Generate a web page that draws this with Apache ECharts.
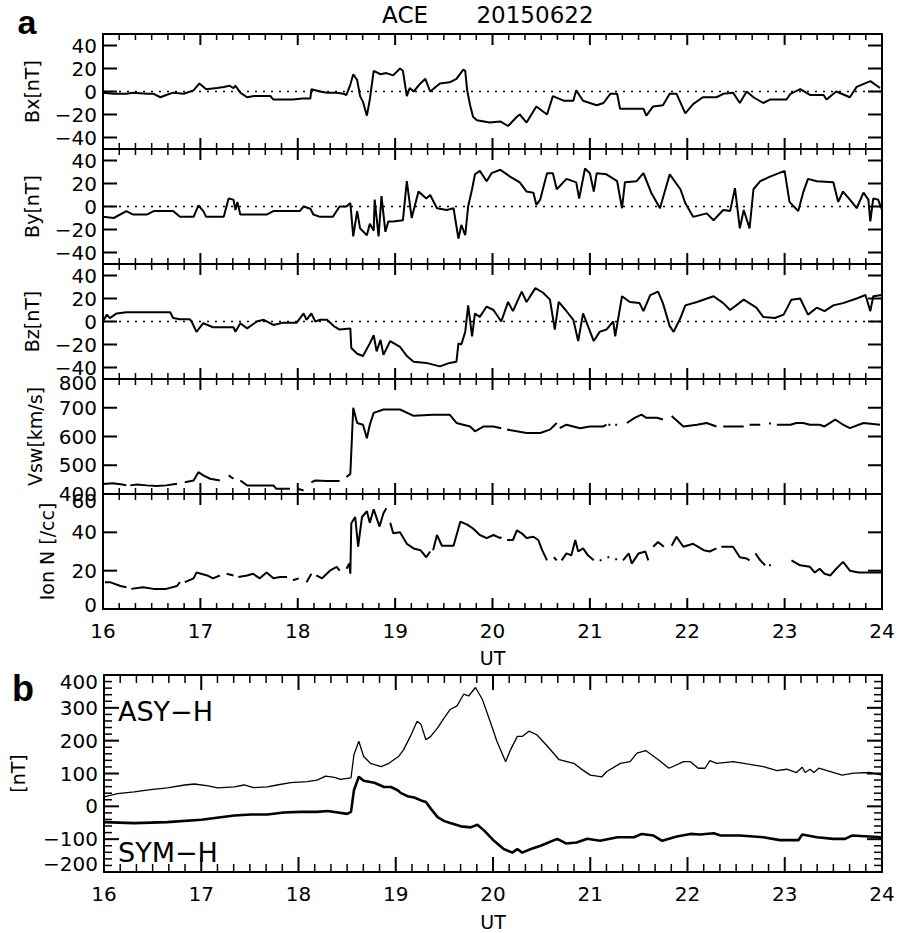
<!DOCTYPE html>
<html>
<head>
<meta charset="utf-8">
<script src="https://cdn.jsdelivr.net/npm/echarts@6/dist/echarts.min.js"></script>
<style>
  html, body { margin: 0; padding: 0; background: #fff; }
  #chart { width: 898px; height: 933px; }
</style>
</head>
<body>
<div id="chart"></div>
<script>
// hours UT, values ('-' = data gap)
const bx = [[16.00,-1],[16.11,-2],[16.24,-2],[16.31,-1],[16.45,-2],[16.52,-2],[16.59,-5],[16.65,-3],[16.72,-1],[16.83,-2],[16.93,1],[16.99,7],[17.06,2],[17.17,3],[17.24,4],[17.30,5],[17.34,3],[17.36,5],[17.41,-1],[17.48,-5],[17.55,-4],[17.65,-4],[17.72,-4],[17.75,-7],[17.85,-7],[17.95,-7],[18.05,-6],[18.13,-6],[18.14,2],[18.23,0],[18.30,-1],[18.40,-1],[18.47,-2],[18.50,-3],[18.54,6],[18.57,15],[18.61,10],[18.64,-4],[18.67,-9],[18.71,-21],[18.74,-7],[18.78,18],[18.85,15],[18.91,16],[18.98,14],[19.05,20],[19.08,18],[19.12,-4],[19.15,3],[19.19,0],[19.26,7],[19.31,11],[19.36,0],[19.46,7],[19.56,8],[19.63,11],[19.70,19],[19.72,18],[19.74,1],[19.77,-12],[19.80,-22],[19.84,-25],[19.97,-27],[20.08,-26],[20.16,-30],[20.25,-22],[20.28,-20],[20.35,-27],[20.45,-13],[20.56,-20],[20.62,-4],[20.73,-8],[20.83,-8],[20.86,1],[20.93,-8],[21.00,-10],[21.07,-12],[21.14,-10],[21.21,-2],[21.28,-2],[21.31,-15],[21.45,-15],[21.55,-15],[21.58,-21],[21.65,-13],[21.75,-12],[21.82,-2],[21.89,-2],[21.98,-19],[22.06,-11],[22.16,-5],[22.30,-5],[22.37,-2],[22.47,-1],[22.54,-10],[22.61,0],[22.68,-5],[22.78,-10],[22.85,-7],[23.02,-7],[23.06,-2],[23.16,2],[23.26,-3],[23.40,-3],[23.43,-7],[23.53,0],[23.67,-5],[23.74,4],[23.88,9],[23.98,3]];

const by = [[16.00,-9],[16.11,-10],[16.24,-4],[16.31,-7],[16.45,-7],[16.52,-4],[16.72,-4],[16.79,-9],[16.93,-9],[16.98,1],[17.03,-4],[17.06,-9],[17.24,-9],[17.29,7],[17.34,6],[17.36,-3],[17.38,4],[17.41,-7],[17.68,-7],[17.75,-4],[18.02,-4],[18.06,0],[18.13,-2],[18.16,-7],[18.23,-9],[18.36,-9],[18.43,0],[18.50,0],[18.54,3],[18.57,-26],[18.61,-4],[18.64,-19],[18.71,-25],[18.74,-15],[18.78,-21],[18.79,6],[18.83,-26],[18.86,9],[18.90,-22],[18.93,-13],[18.98,-13],[19.08,-12],[19.12,22],[19.17,-10],[19.24,13],[19.32,7],[19.36,10],[19.43,-1.5],[19.53,-3],[19.60,-1.5],[19.65,-28],[19.68,-16],[19.72,-25],[19.75,0],[19.79,15],[19.82,28],[19.87,31],[19.94,22],[19.99,29],[20.08,32],[20.18,26],[20.28,21],[20.35,13],[20.42,12],[20.45,1.5],[20.49,6],[20.56,29],[20.62,29],[20.66,15],[20.76,24],[20.86,21],[20.89,7],[20.95,33],[21.00,29],[21.04,13],[21.07,29],[21.17,28],[21.28,22],[21.33,-1.5],[21.36,21],[21.48,22],[21.55,29],[21.63,12],[21.72,-1.5],[21.82,28],[21.93,15],[21.98,3],[22.06,-9],[22.20,-6],[22.27,-12],[22.37,-3],[22.44,-4],[22.49,16],[22.54,-19],[22.58,-3],[22.64,-19],[22.68,15],[22.75,22],[22.85,26],[23.00,31],[23.05,4],[23.14,-4],[23.19,12],[23.24,24],[23.33,22],[23.50,21],[23.55,4],[23.60,13],[23.67,6],[23.74,-1.5],[23.81,12],[23.86,6],[23.88,-13],[23.91,7],[23.96,6],[24.00,-3]];

const bz = [[16.00,0],[16.04,6],[16.07,3],[16.14,7],[16.24,8],[16.45,8],[16.65,8],[16.69,8],[16.72,3],[16.79,2],[16.89,2],[16.91,0],[16.96,-9],[17.03,-1.5],[17.13,-5],[17.34,-5],[17.36,-9],[17.41,-1.5],[17.48,-6],[17.58,0],[17.65,1.5],[17.75,-3],[17.85,-1],[17.99,-1],[18.06,7],[18.09,1.5],[18.14,7],[18.18,0],[18.23,1.5],[18.30,1.5],[18.37,-4],[18.43,-7],[18.54,-6],[18.55,-23],[18.61,-28],[18.67,-30],[18.74,-19],[18.78,-12],[18.81,-26],[18.85,-16],[18.88,-29],[18.95,-17],[19.05,-22],[19.12,-30],[19.19,-35],[19.32,-36],[19.46,-39],[19.56,-36],[19.63,-35],[19.65,-19],[19.68,-20],[19.72,-9],[19.75,14],[19.79,-13],[19.82,7],[19.87,4],[19.94,13],[20.01,10],[20.09,0],[20.16,17],[20.21,9],[20.30,26],[20.35,17],[20.44,29],[20.52,25],[20.59,19],[20.64,-7],[20.68,17],[20.75,10],[20.83,1.5],[20.88,-17],[20.93,7],[21.04,-17],[21.10,-9],[21.17,-7],[21.24,0],[21.26,-13],[21.33,22],[21.41,17],[21.51,16],[21.55,9],[21.62,23],[21.70,26],[21.75,16],[21.82,-4],[21.86,-9],[21.93,3],[21.98,14],[22.10,17],[22.27,22],[22.37,16],[22.44,10],[22.58,19],[22.71,12],[22.78,4],[22.90,3],[22.99,6],[23.07,19],[23.16,20],[23.24,6],[23.33,12],[23.41,9],[23.50,14],[23.60,16],[23.74,20],[23.83,23],[23.88,9],[23.91,22],[24.00,23]];

const vsw = [[16.00,435],[16.10,437],[16.20,433],[16.24,430],[16.26,'-'],[16.28,430],[16.35,433],[16.45,430],[16.55,428],[16.65,430],[16.76,436],[16.78,'-'],[16.84,441],[16.93,447],[16.98,476],[17.03,465],[17.10,453],[17.20,447],[17.24,'-'],[17.29,465],[17.34,453],[17.36,'-'],[17.41,447],[17.48,430],[17.61,430],[17.75,430],[17.78,418],[17.85,418],[17.92,418],[17.95,'-'],[18.00,418],[18.06,412],[18.10,'-'],[18.14,441],[18.18,447],[18.30,445],[18.43,445],[18.46,'-'],[18.50,459],[18.54,470],[18.57,700],[18.61,647],[18.67,641],[18.71,594],[18.74,641],[18.78,682],[18.88,694],[19.05,694],[19.19,672],[19.39,676],[19.56,676],[19.63,647],[19.77,635],[19.82,618],[19.91,635],[20.01,635],[20.09,629],[20.10,'-'],[20.15,624],[20.35,612],[20.49,612],[20.59,624],[20.66,647],[20.67,'-'],[20.69,629],[20.76,641],[20.83,635],[20.90,629],[21.00,635],[21.14,635],[21.17,641],[21.18,'-'],[21.19,641],[21.21,641],[21.22,'-'],[21.26,641],[21.28,641],[21.29,'-'],[21.38,647],[21.46,665],[21.53,676],[21.58,665],[21.69,665],[21.75,659],[21.78,'-'],[21.84,671],[21.96,635],[22.10,641],[22.20,647],[22.30,635],[22.33,'-'],[22.37,635],[22.58,635],[22.60,'-'],[22.64,641],[22.75,641],[22.82,'-'],[22.84,645],[22.86,645],[22.88,'-'],[22.92,641],[23.06,641],[23.12,647],[23.19,647],[23.26,641],[23.36,641],[23.41,635],[23.52,659],[23.60,641],[23.67,629],[23.81,647],[23.98,641]];

const ionN = [[16.02,14],[16.07,14],[16.18,12],[16.24,11.4],[16.27,'-'],[16.29,10.5],[16.41,11.4],[16.52,10.5],[16.65,10.5],[16.76,12],[16.79,14],[16.81,'-'],[16.84,14],[16.93,16],[16.96,19],[17.07,17.5],[17.13,16],[17.20,17.5],[17.24,'-'],[17.27,18.4],[17.34,17.5],[17.37,'-'],[17.39,16.7],[17.48,17.5],[17.54,18.4],[17.61,16],[17.68,19],[17.75,16],[17.82,16.7],[17.89,16.7],[17.93,'-'],[17.95,15],[18.01,16],[18.04,'-'],[18.09,14],[18.14,18.4],[18.16,'-'],[18.19,17.5],[18.25,16],[18.33,20],[18.40,22],[18.43,20],[18.46,'-'],[18.50,21],[18.53,23.7],[18.54,18.4],[18.55,44.7],[18.59,48],[18.62,32.5],[18.66,48],[18.71,51],[18.74,45],[18.78,52],[18.84,43],[18.88,50],[18.91,52.6],[18.93,'-'],[18.95,45],[18.98,39.5],[19.05,40],[19.12,34],[19.19,31.6],[19.26,30.7],[19.32,27],[19.36,30],[19.38,'-'],[19.39,30.7],[19.43,38.6],[19.48,33],[19.56,33],[19.60,33],[19.67,45.6],[19.74,44],[19.80,42],[19.87,38.6],[19.94,37],[20.01,38.6],[20.08,37],[20.09,37.7],[20.11,'-'],[20.15,36],[20.21,36],[20.25,41],[20.30,39.5],[20.35,37],[20.42,37.7],[20.47,36],[20.51,30.7],[20.56,25.4],[20.59,'-'],[20.63,27],[20.66,25.4],[20.68,'-'],[20.71,25.4],[20.76,29],[20.81,28],[20.85,36],[20.88,30],[20.93,31.6],[20.98,28],[21.04,25.4],[21.07,'-'],[21.10,25.4],[21.12,25.4],[21.15,'-'],[21.18,27],[21.20,27],[21.23,'-'],[21.26,26],[21.28,26],[21.31,'-'],[21.34,25.4],[21.40,29],[21.43,23.7],[21.50,29],[21.57,30],[21.60,25.4],[21.63,'-'],[21.65,32.5],[21.70,35],[21.76,32.5],[21.79,'-'],[21.84,33],[21.89,37.7],[21.96,32.5],[22.06,34],[22.17,30.7],[22.23,30],[22.30,31.6],[22.33,'-'],[22.35,32.5],[22.47,32.5],[22.54,27],[22.61,26.3],[22.64,25.4],[22.67,'-'],[22.70,29],[22.75,25.4],[22.80,22.8],[22.82,'-'],[22.84,22.8],[22.86,22.8],[22.90,'-'],[23.07,25.4],[23.16,22.8],[23.26,22],[23.31,19],[23.36,21],[23.41,18.4],[23.47,17.5],[23.53,21],[23.60,24.6],[23.67,20],[23.76,19],[23.84,19],[24.00,19]];

const asyH = [[16.00,29],[16.14,39],[16.31,44],[16.48,51],[16.65,56],[16.83,65],[16.93,68],[17.07,62],[17.17,56],[17.34,59],[17.44,65],[17.54,57],[17.68,59],[17.78,65],[17.92,72],[18.09,75],[18.19,80],[18.28,92],[18.37,88],[18.43,82],[18.54,87],[18.57,157],[18.62,198],[18.67,152],[18.74,131],[18.85,121],[18.93,131],[18.98,142],[19.03,152],[19.08,172],[19.15,213],[19.22,259],[19.26,249],[19.31,203],[19.36,213],[19.43,239],[19.50,270],[19.56,295],[19.63,306],[19.70,342],[19.75,336],[19.82,362],[19.89,326],[19.97,259],[20.04,198],[20.13,136],[20.18,172],[20.25,213],[20.30,213],[20.37,229],[20.45,218],[20.56,183],[20.68,142],[20.83,131],[20.92,111],[21.00,95],[21.12,90],[21.17,106],[21.31,131],[21.41,136],[21.48,162],[21.57,170],[21.70,142],[21.81,116],[21.96,136],[22.03,136],[22.11,116],[22.18,116],[22.23,139],[22.30,131],[22.47,136],[22.61,129],[22.78,121],[22.92,109],[23.02,113],[23.12,103],[23.18,119],[23.21,103],[23.26,113],[23.30,103],[23.35,116],[23.47,106],[23.59,95],[23.71,101],[23.88,103],[24.00,95]];

const symH = [[16.00,-48],[16.31,-51],[16.65,-48],[17.00,-41],[17.34,-28],[17.51,-25],[17.68,-25],[17.85,-19],[18.02,-17],[18.19,-17],[18.30,-14],[18.37,-17],[18.50,-23],[18.54,-17],[18.57,49],[18.62,90],[18.67,78],[18.78,72],[18.88,59],[18.95,59],[19.02,49],[19.05,41],[19.12,31],[19.19,27],[19.26,18],[19.31,13],[19.36,-7],[19.43,-33],[19.50,-45],[19.56,-51],[19.67,-61],[19.77,-64],[19.84,-56],[19.91,-74],[20.01,-105],[20.11,-130],[20.20,-141],[20.25,-130],[20.30,-141],[20.39,-130],[20.49,-120],[20.66,-99],[20.75,-113],[20.86,-110],[20.97,-99],[21.10,-105],[21.28,-94],[21.45,-94],[21.53,-84],[21.65,-89],[21.74,-105],[21.89,-92],[22.03,-84],[22.13,-86],[22.27,-82],[22.34,-89],[22.54,-89],[22.78,-94],[22.95,-103],[23.14,-103],[23.18,-86],[23.33,-94],[23.50,-99],[23.62,-99],[23.69,-89],[24.00,-94]];

const zeroLine = [[16, 0], [24, 0]];
const fieldTicks = [-40, -20, 0, 20, 40];

// tick marks: every 10 min on the time axis, every 20 nT on the ASY/SYM axis
const hourMarks = [];
for (let k = 0; k <= 48; k++) hourMarks.push(16 + k / 6);
const symMarks = [];
for (let v = -200; v <= 400; v += 20) symMarks.push(v);

const FONT = "DejaVu Sans";
const black = "#000";
const chart = echarts.init(document.getElementById("chart"), null, { renderer: "svg" });

const minus = (v) => String(v).replace("-", "\u2212");

// panels of part a; pad = extra padding on edge labels (+ top, - bottom)
const panels = [
  { data: bx, name: "Bx[nT]", gap: 62, top: 34, min: -50, max: 50, ticks: fieldTicks, zero: true },
  { data: by, name: "By[nT]", gap: 62, top: 149, min: -50, max: 50, ticks: fieldTicks, zero: true },
  { data: bz, name: "Bz[nT]", gap: 62, top: 264, min: -50, max: 50, ticks: fieldTicks, zero: true },
  { data: vsw, name: "Vsw[km/s]", gap: 59, top: 379, min: 400, max: 800, ticks: [400, 500, 600, 700, 800], pad: { 800: 8 } },
  { data: ionN, name: "Ion N [/cc]", gap: 47, top: 494, min: 0, max: 60, ticks: [0, 20, 40, 60], pad: { 60: 14, 0: -8 } },
];

const grids = [];
const xAxes = [];
const yAxes = [];
const series = [];
const nameStyle = { color: black, fontFamily: FONT, fontSize: 19 };

function yLabel(pad, custom) {
  const rich = {};
  if (pad) {
    for (const k in pad) {
      const p = pad[k];
      rich["p" + String(k).replace("-", "m")] = {
        fontFamily: FONT, fontSize: 20, color: black,
        padding: p > 0 ? [p, 0, 0, 0] : [0, 0, -p, 0],
      };
    }
  }
  const lab = {
    show: true,
    color: black,
    fontFamily: FONT,
    fontSize: 20,
    margin: 6,
    showMinLabel: true,
    showMaxLabel: true,
    formatter: (v) => {
      const s = minus(v);
      if (!pad || pad[v] === undefined) return s;
      return "{p" + String(v).replace("-", "m") + "|" + s + "}";
    },
    rich: rich,
  };
  if (custom) lab.customValues = custom.slice();
  return lab;
}

function xAxis(gi, pos, showLabels, nameGap) {
  const ax = {
    type: "value",
    gridIndex: gi,
    position: pos,
    min: 16,
    max: 24,
    interval: 1,
    axisLine: { show: true, onZero: false, lineStyle: { color: black, width: 2 } },
    axisTick: { show: false },
    minorTick: { show: false },
    splitLine: { show: false },
    axisLabel: { show: showLabels, color: black, fontFamily: FONT, fontSize: 20, margin: 12 },
  };
  if (nameGap) {
    ax.name = "UT";
    ax.nameLocation = "middle";
    ax.nameGap = nameGap;
    ax.nameTextStyle = nameStyle;
  }
  return ax;
}

function yAxisA(gi, pos, p) {
  const ax = {
    type: "value",
    gridIndex: gi,
    position: pos,
    min: p.min,
    max: p.max,
    axisLine: { show: true, onZero: false, lineStyle: { color: black, width: 2 } },
    axisTick: { show: false },
    splitLine: { show: false },
    axisLabel: pos === "left" ? yLabel(p.pad, p.ticks) : { show: false },
  };
  if (pos === "left") {
    ax.name = p.name;
    ax.nameLocation = "middle";
    ax.nameRotate = 90;
    ax.nameGap = p.gap;
    ax.nameTextStyle = nameStyle;
  }
  return ax;
}

// inward tick marks drawn through the axes' own scales
function seg(x1, y1, x2, y2, w) {
  return { type: "line", shape: { x1, y1, x2, y2 }, style: { stroke: black, lineWidth: w } };
}
function xTickSeries(ai, yMin, yMax, major, minor) {
  return {
    type: "custom",
    xAxisIndex: ai,
    yAxisIndex: ai,
    silent: true,
    z: 5,
    data: hourMarks.map((h) => [h, yMin]),
    renderItem: (params, api) => {
      const h = api.value(0);
      const isMajor = Math.abs(h - Math.round(h)) < 1e-6;
      const len = isMajor ? major : minor;
      const w = isMajor ? 2 : 1.5;
      const b = api.coord([h, yMin]);
      const t = api.coord([h, yMax]);
      return { type: "group", children: [seg(b[0], b[1], b[0], b[1] - len, w), seg(t[0], t[1], t[0], t[1] + len, w)] };
    },
  };
}
function yTickSeries(ai, values, majorStep, major, minor) {
  return {
    type: "custom",
    xAxisIndex: ai,
    yAxisIndex: ai,
    silent: true,
    z: 5,
    data: values.map((v) => [16, v]),
    renderItem: (params, api) => {
      const v = api.value(1);
      const isMajor = !majorStep || v % majorStep === 0;
      const len = isMajor ? major : minor;
      const w = isMajor ? 2 : 1.5;
      const l = api.coord([16, v]);
      const r = api.coord([24, v]);
      return { type: "group", children: [seg(l[0], l[1], l[0] + len, l[1], w), seg(r[0], r[1], r[0] - len, r[1], w)] };
    },
  };
}

panels.forEach((p, i) => {
  const last = i === panels.length - 1;
  grids.push({ left: 103, width: 779, top: p.top, height: 115 });
  xAxes.push(xAxis(i, "bottom", last, last ? 39 : 0));
  xAxes.push(xAxis(i, "top", false, 0));
  yAxes.push(yAxisA(i, "left", p));
  yAxes.push(yAxisA(i, "right", p));
  series.push({
    type: "line",
    xAxisIndex: 2 * i,
    yAxisIndex: 2 * i,
    data: p.data,
    showSymbol: false,
    connectNulls: false,
    lineStyle: { color: black, width: 2 },
  });
  if (p.zero) {
    series.push({
      type: "line",
      xAxisIndex: 2 * i,
      yAxisIndex: 2 * i,
      data: zeroLine,
      showSymbol: false,
      silent: true,
      lineStyle: { color: black, width: 1.5, type: [2, 6] },
    });
  }
  series.push(xTickSeries(2 * i, p.min, p.max, 11, 6));
  series.push(yTickSeries(2 * i, p.ticks, 0, 14, 14));
});

// part b: ASY-H / SYM-H
const gb = panels.length;
grids.push({ left: 103, width: 779, top: 675, height: 197 });
xAxes.push(xAxis(gb, "bottom", true, 40));
xAxes.push(xAxis(gb, "top", false, 0));
const padB = { 400: 14, "-200": -16 };
function yAxisB(pos) {
  const ax = {
    type: "value",
    gridIndex: gb,
    position: pos,
    min: -200,
    max: 400,
    interval: 100,
    axisLine: { show: true, onZero: false, lineStyle: { color: black, width: 2 } },
    axisTick: { show: false },
    minorTick: { show: false },
    splitLine: { show: false },
    axisLabel: pos === "left" ? yLabel(padB) : { show: false },
  };
  if (pos === "left") {
    ax.name = "[nT]";
    ax.nameLocation = "middle";
    ax.nameRotate = 90;
    ax.nameGap = 77;
    ax.nameTextStyle = nameStyle;
  }
  return ax;
}
yAxes.push(yAxisB("left"));
yAxes.push(yAxisB("right"));
series.push({
  type: "line", xAxisIndex: 2 * gb, yAxisIndex: 2 * gb, data: asyH,
  showSymbol: false, lineStyle: { color: black, width: 1.3 },
});
series.push({
  type: "line", xAxisIndex: 2 * gb, yAxisIndex: 2 * gb, data: symH,
  showSymbol: false, lineStyle: { color: black, width: 2.6 },
});
series.push(xTickSeries(2 * gb, -200, 400, 15, 8));
series.push(yTickSeries(2 * gb, symMarks, 100, 15, 8));

function label(x, y, text, style, align) {
  return {
    text: text,
    left: x,
    top: y,
    padding: 0,
    textAlign: align || "center",
    textVerticalAlign: "middle",
    textStyle: { color: black, fontWeight: "normal", ...style },
  };
}

chart.setOption({
  animation: false,
  title: [
    label(27, 22, "a", { fontFamily: "Liberation Sans", fontWeight: "bold", fontSize: 34 }),
    label(405, 15, "ACE", { fontFamily: FONT, fontSize: 23 }),
    label(535, 15, "20150622", { fontFamily: FONT, fontSize: 23 }),
    label(23, 688, "b", { fontFamily: "Liberation Sans", fontWeight: "bold", fontSize: 36 }),
    label(118, 711, "ASY\u2212H", { fontFamily: FONT, fontSize: 27 }, "left"),
    label(118, 852, "SYM\u2212H", { fontFamily: FONT, fontSize: 27 }, "left"),
  ],
  grid: grids,
  xAxis: xAxes,
  yAxis: yAxes,
  series: series,
});
</script>
</body>
</html>
